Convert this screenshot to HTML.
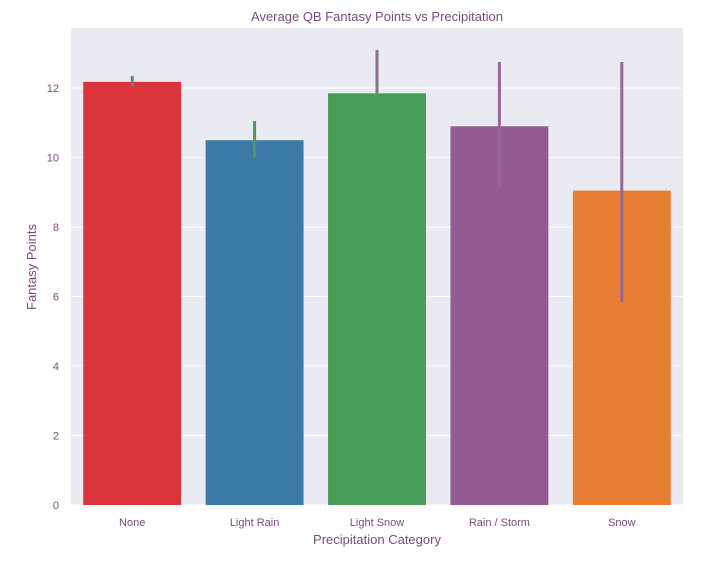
<!DOCTYPE html>
<html><head><meta charset="utf-8"><style>
body{margin:0;background:#fff;}
svg text{font-family:"Liberation Sans","DejaVu Sans",sans-serif;fill:#7b4a7e;}
</style></head><body>
<svg id="chart" width="704" height="562" xmlns="http://www.w3.org/2000/svg">
<rect x="71" y="28" width="612" height="477" fill="#eaeaf2"/>
<g id="grid"></g><g id="bars"></g><g id="axes"></g>
<text x="377" y="21" text-anchor="middle" font-size="13">Average QB Fantasy Points vs Precipitation</text>
<text x="377" y="544" text-anchor="middle" font-size="13">Precipitation Category</text>
<text transform="translate(36,267) rotate(-90)" text-anchor="middle" font-size="13">Fantasy Points</text>
</svg>
<script>
const categories=["None","Light Rain","Light Snow","Rain / Storm","Snow"];
const values=[12.18,10.5,11.85,10.9,9.05];
const errLow=[12.05,10.0,11.85,9.1,5.85];
const errHigh=[12.35,11.05,13.1,12.75,12.75];
const colors=["#d8343a","#3b7aa6","#479d58","#935b92","#e87d34"];
const yTicks=[0,2,4,6,8,10,12];
const NS="http://www.w3.org/2000/svg";
const X0=71,W=612,Y0=505,YMAX=13.73,TOP=28;
const y=v=>Y0-(v/YMAX)*(Y0-TOP);
const band=W/categories.length;
const x=i=>X0+band*i+band/2;
function mk(t,a,p){const e=document.createElementNS(NS,t);for(const k in a)e.setAttribute(k,a[k]);p.appendChild(e);return e;}
const grid=document.getElementById('grid'),bars=document.getElementById('bars'),axes=document.getElementById('axes');
yTicks.forEach(v=>{
 const l=mk('line',{x1:X0,x2:X0+W,y1:y(v),y2:y(v),stroke:'#fff','stroke-width':1},grid);
 
 
 const t=mk('text',{x:X0-12,y:y(v)+4,'text-anchor':'end','font-size':11},axes);
 t.textContent=v;
 
 
});
categories.forEach((c,i)=>{
 const bw=band*0.8;
 const r=mk('rect',{x:x(i)-bw/2,y:y(values[i]),width:bw,height:Y0-y(values[i]),fill:colors[i]},bars);
 
 
 const e=mk('line',{x1:x(i),x2:x(i),y1:y(errLow[i]),y2:y(errHigh[i]),stroke:'#a05fa0','stroke-width':3},bars);
 
 
 const e2=mk('line',{x1:x(i),x2:x(i),y1:y(errLow[i]),y2:y(errHigh[i]),stroke:'#4f9a5a','stroke-width':1},bars);
 
 
 const t=mk('text',{x:x(i),y:526,'text-anchor':'middle','font-size':11},axes);
 t.textContent=c;
 
 
});
</script>
</body></html>
